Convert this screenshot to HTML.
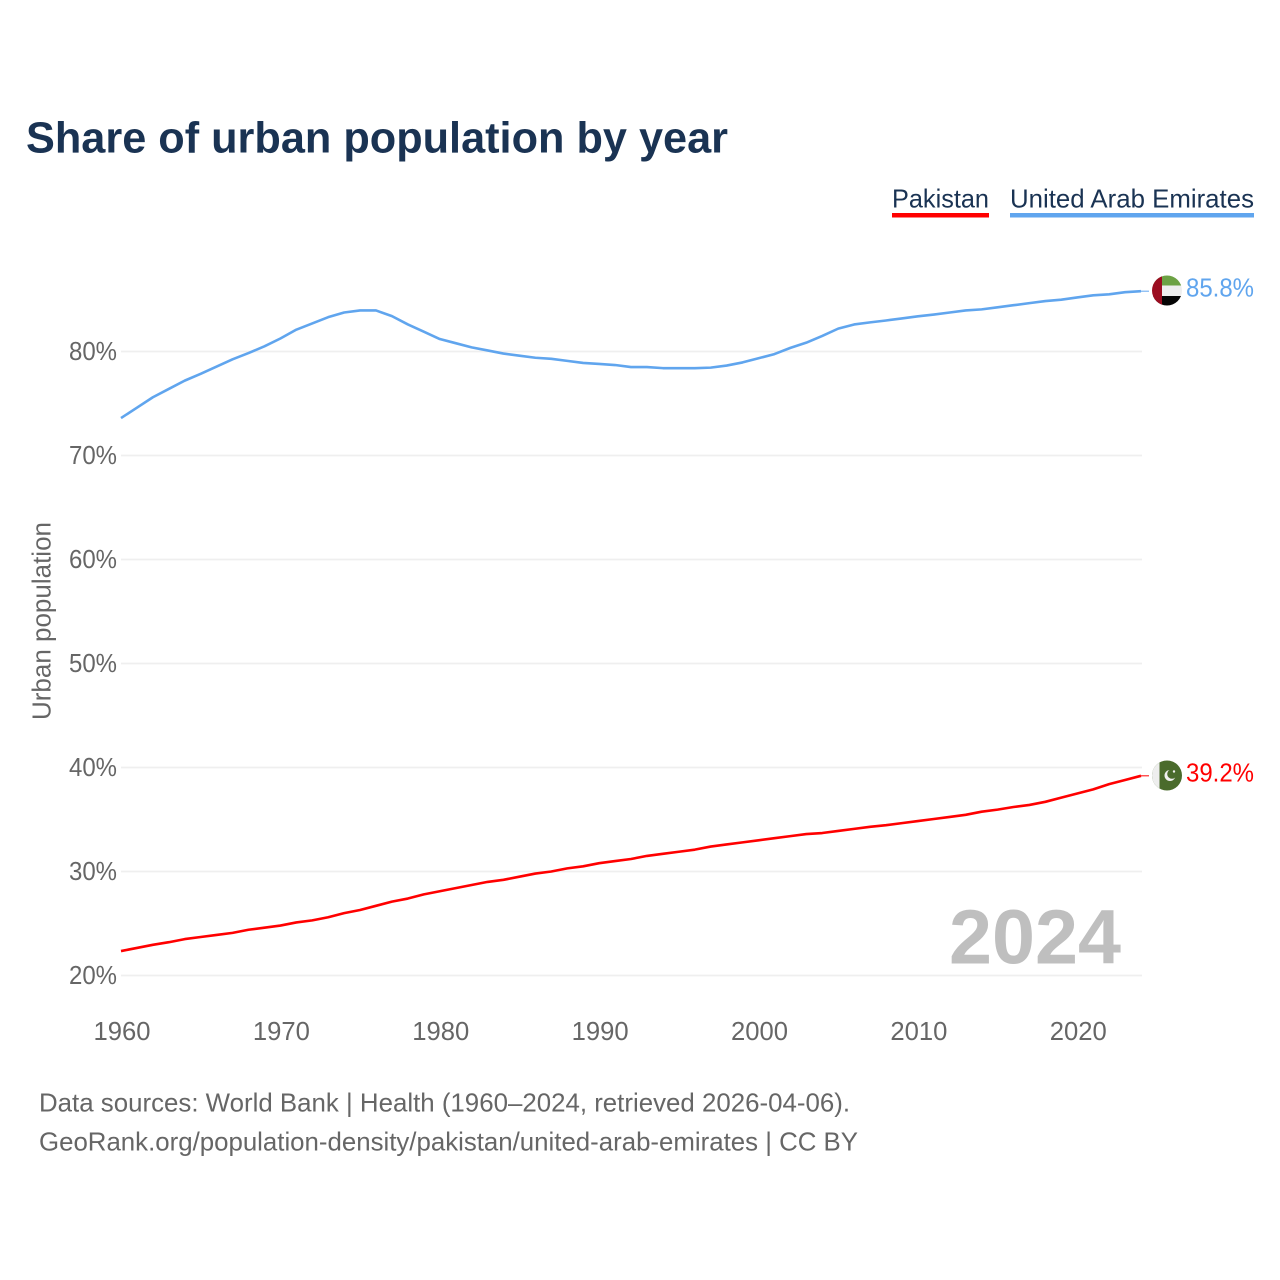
<!DOCTYPE html>
<html lang="en">
<head>
<meta charset="utf-8">
<title>Share of urban population by year</title>
<style>
html,body{margin:0;padding:0;background:#fff;width:1280px;height:1280px;overflow:hidden}
svg{display:block;font-family:"Liberation Sans",sans-serif}
</style>
</head>
<body>
<svg id="chart" xmlns="http://www.w3.org/2000/svg" width="1280" height="1280" viewBox="0 0 1280 1280">
  <defs>
    <clipPath id="clip-uae"><circle cx="1167" cy="290.5" r="15"/></clipPath>
    <clipPath id="clip-pak"><circle cx="1167" cy="775.5" r="15"/></clipPath>
  </defs>
  <text x="26" y="152.5" font-size="44" font-weight="700" fill="#1a3353" textLength="702" lengthAdjust="spacingAndGlyphs">Share of urban population by year</text>

  <g>
    <g>
      <text x="892" y="207.5" font-size="26" fill="#1a3353" textLength="97" lengthAdjust="spacingAndGlyphs">Pakistan</text>
      <rect x="892" y="213" width="97" height="4.5" fill="#ff0000"/>
    </g>
    <g>
      <text x="1010" y="207.5" font-size="26" fill="#1a3353" textLength="244" lengthAdjust="spacingAndGlyphs">United Arab Emirates</text>
      <rect x="1010" y="213" width="244" height="4.5" fill="#60a5ee"/>
    </g>
  </g>

  <g id="grid"></g>
  <g id="yticks"></g>
  <g id="xticks"></g>

  <text transform="translate(50.5,720) rotate(-90)" font-size="25.5" fill="#666666" textLength="198" lengthAdjust="spacingAndGlyphs">Urban population</text>

  <text x="949" y="963.5" font-size="77" font-weight="700" fill="#bfbfbf" textLength="172" lengthAdjust="spacingAndGlyphs">2024</text>

  <g id="series"></g>

  <g clip-path="url(#clip-uae)">
    <rect x="1152" y="275" width="30" height="31" fill="#eeeeee"/>
    <rect x="1152" y="275" width="30" height="10.5" fill="#6ca244"/>
    <rect x="1152" y="296" width="30" height="10" fill="#050505"/>
    <rect x="1152" y="275" width="10" height="31" fill="#9b0d20"/>
  </g>
  <g clip-path="url(#clip-pak)">
    <rect x="1152" y="760" width="30" height="31" fill="#4a6b2c"/>
    <rect x="1152" y="760" width="7.5" height="31" fill="#eeeeee"/>
    <circle cx="1170" cy="775.5" r="5.5" fill="#f0f0f0"/>
    <circle cx="1172" cy="774" r="4.8" fill="#4a6b2c"/>
    <circle cx="1174" cy="771.5" r="1.2" fill="#f0f0f0"/>
  </g>

  <text id="label-uae" x="1186" y="296.5" font-size="26" fill="#60a5ee" textLength="68" lengthAdjust="spacingAndGlyphs"></text>
  <text id="label-pak" x="1186" y="781.5" font-size="26" fill="#ff0000" textLength="68" lengthAdjust="spacingAndGlyphs"></text>

  <g>
    <text x="39" y="1111.5" font-size="26" fill="#666666" textLength="811" lengthAdjust="spacingAndGlyphs">Data sources: World Bank | Health (1960–2024, retrieved 2026-04-06).</text>
    <text x="39" y="1150.5" font-size="26" fill="#666666" textLength="819" lengthAdjust="spacingAndGlyphs">GeoRank.org/population-density/pakistan/united-arab-emirates | CC BY</text>
  </g>
</svg>
<script>
const startYear = 1960;
const yTickValues = [20, 30, 40, 50, 60, 70, 80];
const xTickValues = [1960, 1970, 1980, 1990, 2000, 2010, 2020];
const uaeValues = [
  73.6, 74.6, 75.6, 76.4, 77.2, 77.85, 78.55, 79.25, 79.85, 80.5,
  81.25, 82.1, 82.7, 83.3, 83.75, 83.95, 83.95, 83.4, 82.6, 81.9,
  81.2, 80.8, 80.4, 80.1, 79.8, 79.6, 79.4, 79.3, 79.1, 78.9,
  78.8, 78.7, 78.5, 78.5, 78.4, 78.4, 78.4, 78.45, 78.65, 78.95,
  79.35, 79.75, 80.35, 80.85, 81.5, 82.2, 82.6, 82.8, 82.98, 83.18,
  83.38, 83.55, 83.75, 83.95, 84.05, 84.25, 84.45, 84.65, 84.85, 84.98,
  85.2, 85.4, 85.5, 85.7, 85.8
];
const pakistanValues = [
  22.35, 22.65, 22.95, 23.2, 23.5, 23.7, 23.9, 24.1, 24.4, 24.6,
  24.8, 25.1, 25.3, 25.6, 26.0, 26.3, 26.7, 27.1, 27.4, 27.8,
  28.1, 28.4, 28.7, 29.0, 29.2, 29.5, 29.8, 30.0, 30.3, 30.5,
  30.8, 31.0, 31.2, 31.5, 31.7, 31.9, 32.1, 32.4, 32.6, 32.8,
  33.0, 33.2, 33.4, 33.6, 33.7, 33.9, 34.1, 34.3, 34.45, 34.65,
  34.85, 35.05, 35.25, 35.45, 35.75, 35.95, 36.2, 36.4, 36.7, 37.1,
  37.5, 37.9, 38.4, 38.8, 39.2
];

const NS = 'http://www.w3.org/2000/svg';
const plotLeft = 121, plotRight = 1141;
function xScale(year) { return plotLeft + (year - 1960) * (plotRight - plotLeft) / 64; }
function yScale(v) { return 975.5 - (v - 20) * 10.4; }
function make(tag, parent, attrs) {
  const el = document.createElementNS(NS, tag);
  for (const k in attrs) el.setAttribute(k, attrs[k]);
  parent.appendChild(el);
  return el;
}

const grid = document.getElementById('grid');
const yticks = document.getElementById('yticks');
const xticks = document.getElementById('xticks');
const seriesGroup = document.getElementById('series');

yTickValues.forEach(function (v) {
  const line = make('line', grid, { x1: plotLeft, x2: plotRight + 1, y1: yScale(v), y2: yScale(v), stroke: '#efefef', 'stroke-width': 1.8 });
  
  
  const t = make('text', yticks, { x: 117, y: yScale(v) + 8.5, 'text-anchor': 'end', 'font-size': 25.5, fill: '#666666', textLength: 48, lengthAdjust: 'spacingAndGlyphs' });
  t.textContent = v + '%';
  
  
});

xTickValues.forEach(function (y) {
  const t = make('text', xticks, { x: xScale(y) + 1, y: 1040, 'text-anchor': 'middle', 'font-size': 25.5, fill: '#666666', textLength: 57, lengthAdjust: 'spacingAndGlyphs' });
  t.textContent = String(y);
  
  
});

function drawSeries(values, color, name) {
  const d = values.map(function (v, i) {
    return (i ? 'L' : 'M') + xScale(startYear + i).toFixed(2) + ' ' + yScale(v).toFixed(2);
  }).join(' ');
  const path = make('path', seriesGroup, { d: d, fill: 'none', stroke: color, 'stroke-width': 2.6, 'stroke-linejoin': 'round' });
  
  
  const lastY = yScale(values[values.length - 1]);
  const conn = make('line', seriesGroup, { x1: plotRight, x2: 1149, y1: lastY, y2: lastY, stroke: color, 'stroke-width': 1 });
  
  
}
drawSeries(uaeValues, '#60a5ee', 'line-uae');
drawSeries(pakistanValues, '#ff0000', 'line-pakistan');

document.getElementById('label-uae').textContent = uaeValues[uaeValues.length - 1].toFixed(1) + '%';
document.getElementById('label-pak').textContent = pakistanValues[pakistanValues.length - 1].toFixed(1) + '%';
</script>
</body>
</html>
